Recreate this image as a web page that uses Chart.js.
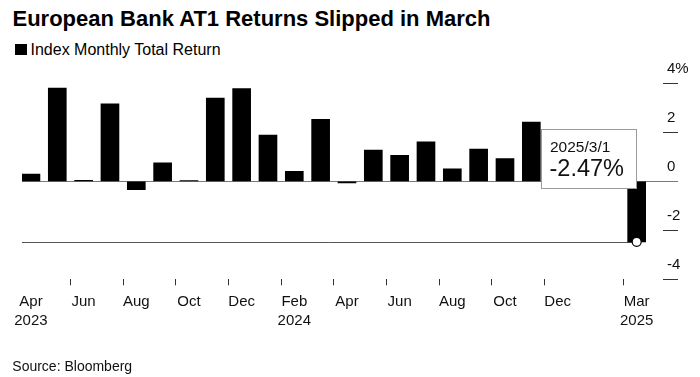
<!DOCTYPE html>
<html>
<head>
<meta charset="utf-8">
<script src="https://cdn.jsdelivr.net/npm/chart.js@4/dist/chart.umd.min.js"></script>
<style>
  html, body { margin: 0; padding: 0; background: #fff; }
  body { width: 700px; height: 377px; position: relative; overflow: hidden; font-family: "Liberation Sans", Arial, sans-serif; color: #000; }
  #title { position: absolute; left: 12.5px; top: 8.2px; font-size: 22px; line-height: 22px; font-weight: bold; white-space: nowrap; }
  #legend { position: absolute; left: 15px; top: 41.5px; font-size: 16px; line-height: 16px; white-space: nowrap; }
  #legend .sw { position: absolute; left: 0; top: 2px; width: 11.5px; height: 11px; background: #000; }
  #legend .tx { position: absolute; left: 15.5px; top: 0; }
  #source { position: absolute; left: 12.3px; top: 358.8px; font-size: 14px; line-height: 14px; white-space: nowrap; color: #111; }
  #c { position: absolute; left: 0; top: 0; }
</style>
</head>
<body>
<div id="title">European Bank AT1 Returns Slipped in March</div>
<div id="legend"><span class="sw"></span><span class="tx">Index Monthly Total Return</span></div>
<canvas id="c" width="700" height="377"></canvas>
<div id="source">Source: Bloomberg</div>
<script>
// ---- data ----
const months = ['2023-04','2023-05','2023-06','2023-07','2023-08','2023-09','2023-10','2023-11','2023-12',
                '2024-01','2024-02','2024-03','2024-04','2024-05','2024-06','2024-07','2024-08','2024-09',
                '2024-10','2024-11','2024-12','2025-01','2025-02','2025-03'];
const returns = [0.29, 3.81, 0.04, 3.16, -0.34, 0.75, 0.03, 3.40, 3.78,
                 1.89, 0.41, 2.53, -0.07, 1.27, 1.06, 1.61, 0.51, 1.32,
                 0.93, 2.42, 0.50, 1.40, 0.60, -2.47];
const xTickLabels = [['Apr','2023'],'','Jun','','Aug','','Oct','','Dec','',['Feb','2024'],'',
                     'Apr','','Jun','','Aug','','Oct','','Dec','','',['Mar','2025']];
const yTickValues = [-4, -2, 0, 2, 4];

const lastIdx = returns.length - 1;
const lastVal = returns[lastIdx];
const lastDate = (() => { const [y, m] = months[lastIdx].split('-'); return y + '/' + parseInt(m, 10) + '/1'; })();

const annotationPlugin = {
  id: 'annot',
  beforeDatasetsDraw(chart) {
    const {ctx, chartArea, scales: {x, y}} = chart;
    const yy = Math.round(y.getPixelForValue(lastVal)) + 0.5;
    ctx.save();
    ctx.strokeStyle = '#555';
    ctx.lineWidth = 1;
    ctx.beginPath();
    ctx.moveTo(chartArea.left, yy);
    ctx.lineTo(x.getPixelForValue(lastIdx), yy);
    ctx.stroke();
    ctx.restore();
  },
  afterDatasetsDraw(chart) {
    const {ctx, scales: {x, y}} = chart;
    const right = Math.round(x.getPixelForValue(lastIdx)) - 1 + 0.5;
    const bottom = Math.round(y.getPixelForValue(0)) + 7 + 0.5;
    const w = 95, h = 59;
    const left = right - w, top = bottom - h;
    ctx.save();
    ctx.fillStyle = '#fff';
    ctx.fillRect(left, top, w, h);
    ctx.strokeStyle = '#9a9a9a';
    ctx.lineWidth = 1;
    ctx.strokeRect(left, top, w, h);
    ctx.fillStyle = '#111';
    ctx.textAlign = 'left';
    ctx.textBaseline = 'alphabetic';
    ctx.font = '15.5px "Liberation Sans", Arial, sans-serif';
    ctx.fillText(lastDate, left + 8.5, top + 22.3);
    ctx.font = '23.5px "Liberation Sans", Arial, sans-serif';
    ctx.fillText(lastVal.toFixed(2) + '%', left + 8, top + 46);
    ctx.restore();
  }
};

new Chart(document.getElementById('c'), {
  type: 'bar',
  data: {
    datasets: [
      {
        type: 'line',
        data: returns.map((v, i) => ({x: i, y: i === lastIdx ? v : null})),
        showLine: false,
        pointRadius: 4.5,
        pointBackgroundColor: '#fff',
        pointBorderColor: '#000',
        pointBorderWidth: 1.2,
        order: 0
      },
      {
        type: 'bar',
        data: returns.map((v, i) => ({x: i, y: v})),
        backgroundColor: '#000',
        borderWidth: 0,
        barThickness: 18,
        order: 1
      }
    ]
  },
  options: {
    responsive: false,
    animation: false,
    devicePixelRatio: 1,
    layout: { padding: { top: 83.3, left: 22, right: 0, bottom: 0 } },
    plugins: { legend: { display: false }, tooltip: { enabled: false }, title: { display: false } },
    scales: {
      x: {
        type: 'linear',
        min: -0.34,
        max: 24,
        offset: false,
        border: { display: false },
        grid: {
          drawOnChartArea: false,
          drawTicks: true,
          tickLength: 6,
          tickWidth: 1,
          tickColor: (ctx) => (ctx.tick && Number.isInteger(ctx.tick.value) && xTickLabels[ctx.tick.value]) ? '#333' : 'rgba(0,0,0,0)'
        },
        ticks: {
          stepSize: 1,
          autoSkip: false,
          maxTicksLimit: 100,
          includeBounds: false,
          maxRotation: 0,
          minRotation: 0,
          padding: 7,
          color: '#111',
          font: { family: '"Liberation Sans", Arial, sans-serif', size: 15, lineHeight: 1.27 },
          callback: (v) => Number.isInteger(v) ? (xTickLabels[v] || '') : ''
        },
        afterFit: (s) => { s.height = 97.7; }
      },
      y: {
        position: 'right',
        min: -4,
        max: 4,
        border: { display: false },
        afterBuildTicks: (s) => { s.ticks = yTickValues.map(v => ({value: v})); },
        grid: {
          drawOnChartArea: true,
          drawTicks: true,
          tickLength: 15,
          lineWidth: 1,
          tickWidth: 1,
          color: (ctx) => (ctx.tick && ctx.tick.value === 0) ? '#7a7a7a' : 'rgba(0,0,0,0)',
          tickColor: (ctx) => (ctx.tick && ctx.tick.value === 0) ? '#7a7a7a' : '#333'
        },
        ticks: {
          padding: -11,
          labelOffset: -14,
          crossAlign: 'near',
          color: '#111',
          font: { family: '"Liberation Sans", Arial, sans-serif', size: 15 },
          callback: (v) => v === yTickValues[yTickValues.length - 1] ? v + '%' : String(v)
        },
        afterFit: (s) => { s.width = 37; }
      }
    }
  },
  plugins: [annotationPlugin]
});
</script>
</body>
</html>
